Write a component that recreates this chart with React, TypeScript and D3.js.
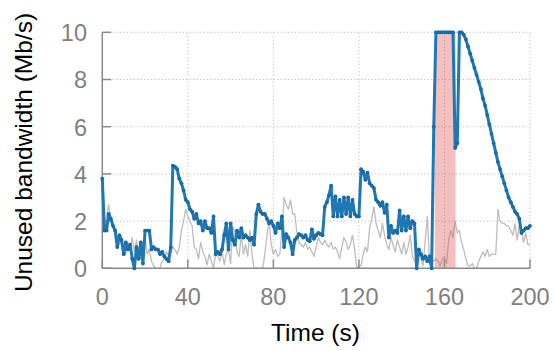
import React, { useEffect, useRef } from 'react';
import * as d3 from 'd3';

// time axis (s) and unused bandwidth samples (Mb/s), one per second
const xTicks = [0, 40, 80, 120, 160, 200];
const yTicks = [0, 2, 4, 6, 8, 10];
const shadedSpan = [155.5, 165.2];

const measured = [
  3.8, 1.6, 1.6, 2.3, 2.1, 1.8, 1.6, 0.9, 1.4, 1.2,
  0.6, 1.1, 0.8, 1.0, 0.4, 0.0, 0.9, 0.4, 1.1, 0.2,
  1.6, 1.6, 1.6, 0.8, 0.9, 0.8, 0.8, 0.6, 0.7, 0.5,
  0.4, 0.3, 0.9, 4.35, 4.3, 4.2, 3.8, 3.6, 3.3, 2.9,
  2.8, 2.5, 2.4, 2.1, 2.3, 1.9, 2.0, 1.6, 2.0, 1.7,
  1.7, 1.5, 2.2, 0.6, 0.7, 0.6, 0.8, 1.4, 1.9, 0.8,
  1.9, 1.2, 1.0, 1.6, 1.3, 1.7, 1.3, 1.4, 1.3, 1.2,
  1.3, 1.0, 2.3, 2.7, 2.4, 2.3, 2.3, 2.1, 1.9, 2.0,
  1.8, 1.5, 1.9, 1.7, 2.2, 0.9, 1.45, 1.3, 1.1, 0.6,
  1.2, 1.3, 1.45, 1.4, 1.3, 1.4, 1.2, 1.15, 1.65, 1.25,
  1.4, 1.5, 1.45, 1.4, 2.6, 2.8, 3.1, 3.5, 2.2, 3.05,
  2.2, 2.9, 2.2, 3.0, 2.3, 3.0, 2.2, 2.9, 2.3, 2.2,
  2.2, 4.2, 4.1, 3.75, 4.05, 3.6, 3.5, 3.4, 2.9, 2.8,
  2.65, 2.8, 2.35, 2.7, 1.3, 1.8, 1.5, 1.6, 1.5, 2.45,
  1.6, 2.2, 1.6, 2.2, 1.7, 2.0, 1.9, 0.0, 0.8, 0.6,
  0.4, 0.5, 0.3, 0.5, 0.0, 6.0, 10, 10, 10, 10,
  10, 10, 10, 10, 10, 5.1, 5.3, 10, 10, 9.9,
  9.7, 9.4, 9.1, 8.8, 8.5, 8.2, 7.9, 7.6, 7.2, 6.9,
  6.5, 6.1, 5.7, 5.3, 4.9, 4.5, 4.2, 3.9, 3.6, 3.3,
  3.0, 2.8, 2.6, 2.4, 2.3, 2.1, 1.5, 1.6, 1.7, 1.7,
  1.8,
];

const reference = [
  1.5, 1.7, 2.2, 2.7, 2.0, 1.8, 1.6, 1.3, 1.0, 1.2,
  0.9, 0.6, 1.1, 0.8, 1.3, 0.7, 1.2, 0.5, 0.4, 0.9,
  1.3, 0.6, 0.8, 0.3, 0.1, 0.0, 0.0, 0.0, 0.3, 0.4,
  0.7, 0.5, 0.6, 0.9, 0.8, 0.6, 0.9, 1.6, 2.0, 2.5,
  2.2, 2.0, 1.8, 0.9, 0.8, 0.4, 1.1, 0.7, 0.5, 0.15,
  0.6, 0.3, 0.0, 0.6, 0.5, 0.3, 0.7, 0.15, 0.6, 0.8,
  0.2, 1.8, 1.5, 0.7, 0.5, 1.5, 0.6, 1.0, 0.5, 1.6,
  0.6, 0.0, 0.0, 0.0, 0.0, 0.0, 0.6, 1.4, 2.0, 1.0,
  0.6, 0.8, 0.5, 0.6, 1.6, 3.0, 2.7, 2.5, 2.9, 2.3,
  2.3, 1.5, 1.1, 1.0, 0.9, 1.1, 0.8, 0.9, 0.7, 0.5,
  0.9, 1.3, 1.1, 1.0, 1.2, 1.0, 0.9, 1.1, 0.8, 0.9,
  0.7, 0.4, 0.9, 1.3, 1.1, 0.8, 1.0, 1.4, 0.8, 0.0,
  0.1, 0.1, 0.6, 0.9, 0.7, 1.7, 2.1, 2.6, 1.9, 1.6,
  1.3, 1.9, 1.4, 1.0, 0.8, 1.3, 1.0, 0.7, 1.2, 0.9,
  0.6, 1.1, 0.6, 0.9, 1.4, 0.5, 0.3, 0.3, 0.6, 0.4,
  0.1, 1.2, 2.2, 0.2, 0.4, 0.3, 0.4, 0.3, 0.1, 0.4,
  0.5, 0.2, 1.2, 1.6, 1.3, 2.0, 1.5, 1.6, 1.1, 0.8,
  0.4, 0.1, 0.1, 0.2, 0.0, 0.0, 0.3, 0.5, 0.7, 0.5,
  0.8, 0.5, 0.6, 0.6, 0.6, 2.5, 2.0, 1.9, 1.9, 1.8,
  1.8, 1.6, 1.4, 1.9, 1.2, 1.8, 1.6, 1.1, 1.5, 1.0,
  1.0,
];

const W = 554;
const H = 351;
const FONT = '"Liberation Sans", Arial, Helvetica, sans-serif';

export default function App() {
  const ref = useRef<SVGSVGElement>(null);

  useEffect(() => {
    const svg = d3.select(ref.current);
    svg.selectAll('*').remove();

    const x = d3.scaleLinear().domain([0, 200]).range([102.3, 530]);
    const y = d3.scaleLinear().domain([0, 10]).range([268.3, 32.3]);

    // dotted grid
    const grid = svg.append('g').attr('stroke', '#b0b0b0').attr('stroke-width', 1)
      .attr('stroke-dasharray', '1,2.5');
    grid.selectAll('line.gx').data(xTicks.slice(1)).enter().append('line')
      .attr('x1', d => x(d)).attr('x2', d => x(d))
      .attr('y1', y(0)).attr('y2', y(10));
    grid.selectAll('line.gy').data(yTicks.slice(1)).enter().append('line')
      .attr('x1', x(0)).attr('x2', x(200))
      .attr('y1', d => y(d)).attr('y2', d => y(d));

    // baseline series (gray)
    const line = d3.line<number>().x((d, i) => x(i)).y(d => y(d));
    svg.append('path').datum(reference)
      .attr('fill', 'none').attr('stroke', '#bdbdbd').attr('stroke-width', 1.3)
      .attr('stroke-linejoin', 'round').attr('d', line);

    // shaded interval
    svg.append('rect')
      .attr('x', x(shadedSpan[0])).attr('width', x(shadedSpan[1]) - x(shadedSpan[0]))
      .attr('y', y(10)).attr('height', y(0) - y(10))
      .attr('fill', 'rgb(226,88,88)').attr('fill-opacity', 0.38);

    // axes
    const ax = svg.append('g').attr('stroke', '#8a8a8a').attr('stroke-width', 1.5);
    ax.append('line').attr('x1', x(0)).attr('x2', x(0)).attr('y1', y(0)).attr('y2', y(10));
    ax.append('line').attr('x1', x(0)).attr('x2', x(200)).attr('y1', y(0)).attr('y2', y(0));
    ax.selectAll('line.tx').data(xTicks).enter().append('line')
      .attr('x1', d => x(d)).attr('x2', d => x(d)).attr('y1', y(0)).attr('y2', y(0) - 9);
    ax.selectAll('line.ty').data(yTicks).enter().append('line')
      .attr('x1', x(0)).attr('x2', x(0) + 9).attr('y1', d => y(d)).attr('y2', d => y(d));

    // measured series (blue)
    svg.append('path').datum(measured)
      .attr('fill', 'none').attr('stroke', '#1f77b4').attr('stroke-width', 3)
      .attr('stroke-linejoin', 'round').attr('d', line);
    svg.append('g').selectAll('circle').data(measured).enter().append('circle')
      .attr('cx', (d, i) => x(i)).attr('cy', d => y(d)).attr('r', 1.9)
      .attr('fill', '#1a6aa3');

    // tick labels
    const lab = svg.append('g').attr('font-family', FONT).attr('font-size', 23.5).attr('fill', '#808080');
    lab.selectAll('text.xl').data(xTicks).enter().append('text')
      .attr('x', d => x(d)).attr('y', 305).attr('text-anchor', 'middle').text(d => d);
    lab.selectAll('text.yl').data(yTicks).enter().append('text')
      .attr('x', 87).attr('y', d => y(d) + 8.8).attr('text-anchor', 'end').text(d => d);

    // axis titles
    svg.append('text').attr('x', 315.5).attr('y', 341)
      .attr('text-anchor', 'middle').attr('font-family', FONT).attr('font-size', 24.5)
      .attr('fill', '#000').text('Time (s)');
    svg.append('text').attr('transform', 'translate(32,152.5) rotate(-90)')
      .attr('text-anchor', 'middle').attr('font-family', FONT).attr('font-size', 24.5)
      .attr('fill', '#000').text('Unused bandwidth (Mb/s)');
  }, []);

  return (
    <svg ref={ref} width={W} height={H}
      style={{ position: 'absolute', left: 0, top: 0, background: '#fff' }} />
  );
}
